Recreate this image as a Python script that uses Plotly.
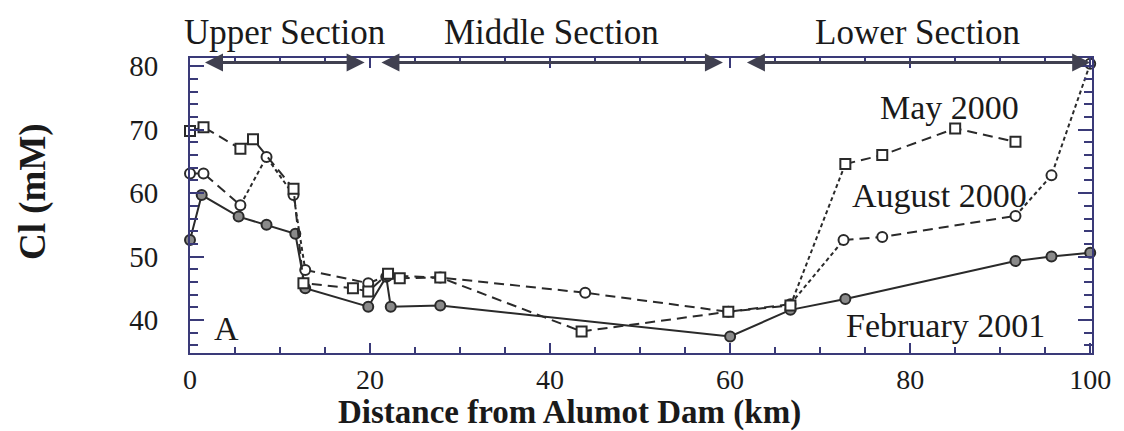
import plotly.graph_objects as go

# ---- data ----
may_km = [0, 1.5, 5.6, 7.0, 11.5, 12.6, 18.1, 19.8, 22.0, 23.3, 27.8, 43.5, 59.8, 66.7, 72.8, 76.9, 85.0, 91.7]
may_cl = [69.8, 70.4, 67.0, 68.5, 60.7, 45.8, 45.0, 44.5, 47.3, 46.6, 46.7, 38.2, 41.3, 42.3, 64.6, 66.0, 70.2, 68.1]

aug_km = [0, 1.5, 5.6, 8.5, 11.5, 12.8, 19.8, 22.0, 27.8, 43.9, 59.8, 66.7, 72.6, 76.9, 91.7, 95.7, 100.0]
aug_cl = [63.1, 63.1, 58.1, 65.7, 59.7, 47.9, 45.8, 47.0, 46.7, 44.3, 41.3, 42.5, 52.6, 53.1, 56.4, 62.8, 80.4]

feb_km = [0, 1.3, 5.4, 8.5, 11.7, 12.8, 19.8, 21.8, 22.3, 27.8, 60.0, 66.7, 72.8, 91.7, 95.7, 100.0]
feb_cl = [52.6, 59.7, 56.3, 55.0, 53.6, 45.0, 42.1, 46.8, 42.1, 42.3, 37.4, 41.6, 43.3, 49.3, 50.0, 50.6]

series_labels = ["May 2000", "August 2000", "February 2001"]
section_names = ["Upper Section", "Middle Section", "Lower Section"]
section_start = [1.5, 21.1, 61.7]
section_end = [19.4, 59.2, 100.0]

x_ticks = [0, 20, 40, 60, 80, 100]
y_ticks = [40, 50, 60, 70, 80]

# ---- styling ----
FONT = "Liberation Serif"
LINE = "#2a2a2a"
AXIS = "#3a3a78"
DASH = "10px,6px"
DOT = "4px,3px"

fig = go.Figure()


def add_series(km, cl, segments, symbol, fill):
    for (i0, i1, dash) in segments:
        fig.add_trace(go.Scatter(
            x=km[i0:i1 + 1], y=cl[i0:i1 + 1], mode="lines",
            line=dict(color=LINE, width=2, dash=dash),
            showlegend=False, hoverinfo="skip", cliponaxis=False))
    fig.add_trace(go.Scatter(
        x=km, y=cl, mode="markers",
        marker=dict(symbol=symbol, size=10, color=fill,
                    line=dict(color=LINE, width=2)),
        showlegend=False, cliponaxis=False))


# segments: (start index, end index, dash style)
may_seg = [(0, 13, DASH), (13, 14, DOT), (14, 17, DASH)]
aug_seg = [(0, 2, DASH), (2, 5, DOT), (5, 11, DASH),
           (11, 12, DOT), (12, 14, DASH), (14, 16, DOT)]
feb_seg = [(0, len(feb_km) - 1, "solid")]

add_series(feb_km, feb_cl, feb_seg, "circle", "#8a8a8a")
add_series(aug_km, aug_cl, aug_seg, "circle", "white")
add_series(may_km, may_cl, may_seg, "square", "white")

annotations = []
# section arrows and labels
for name, s, e in zip(section_names, section_start, section_end):
    annotations.append(dict(
        x=e, y=80.6, ax=s, ay=80.6, xref="x", yref="y", axref="x", ayref="y",
        text="", showarrow=True, arrowhead=2, arrowside="end+start",
        arrowsize=1.2, arrowwidth=3, arrowcolor="#404050"))
    annotations.append(dict(
        x=(s + e) / 2, y=1.088, xref="x", yref="paper", text=name,
        showarrow=False, font=dict(family=FONT, size=35, color="#1a1a1a"),
        xanchor="center", yanchor="middle"))

label_pos = [(84.4, 73.5), (83.3, 59.7), (83.9, 39.2)]
for txt, (lx, ly) in zip(series_labels, label_pos):
    annotations.append(dict(
        x=lx, y=ly, xref="x", yref="y", text=txt, showarrow=False,
        font=dict(family=FONT, size=34, color="#1a1a1a"),
        xanchor="center", yanchor="middle", bgcolor="rgba(0,0,0,0)"))

annotations.append(dict(x=4.1, y=38.7, xref="x", yref="y", text="A",
                        showarrow=False, font=dict(family=FONT, size=34, color="#1a1a1a")))

annotations.append(dict(x=42.2, y=-0.200, xref="x", yref="paper",
                        text="<b>Distance from Alumot Dam (km)</b>", showarrow=False,
                        font=dict(family=FONT, size=33, color="#1a1a1a"),
                        xanchor="center", yanchor="middle"))
annotations.append(dict(x=-0.174, y=0.546, xref="paper", yref="paper",
                        text="<b>Cl (mM)</b>", showarrow=False, textangle=-90,
                        font=dict(family=FONT, size=37, color="#1a1a1a"),
                        xanchor="center", yanchor="middle"))

fig.update_layout(
    width=1124, height=431,
    margin=dict(l=190, r=32, t=58, b=78),
    paper_bgcolor="white", plot_bgcolor="white",
    annotations=annotations,
    xaxis=dict(range=[0, 100.2], tickmode="array", tickvals=x_ticks,
               ticks="inside", ticklen=10, tickwidth=1.5, tickcolor=AXIS,
               minor=dict(dtick=5, ticks="inside", ticklen=6, tickcolor=AXIS, tickwidth=1.5),
               showline=True, linecolor=AXIS, linewidth=2, mirror="ticks",
               showgrid=False, zeroline=False,
               tickfont=dict(family=FONT, size=28, color="#1a1a1a"),
               ticklabelstandoff=0),
    yaxis=dict(range=[34.8, 81.3], tickmode="array", tickvals=y_ticks,
               ticks="inside", ticklen=14, tickwidth=1.5, tickcolor=AXIS,
               minor=dict(dtick=2, ticks="inside", ticklen=8, tickcolor=AXIS, tickwidth=1.5),
               showline=True, linecolor=AXIS, linewidth=2, mirror="ticks",
               showgrid=False, zeroline=False,
               tickfont=dict(family=FONT, size=29, color="#1a1a1a"),
               ticklabelstandoff=24),
)

fig.write_html("out.html")
